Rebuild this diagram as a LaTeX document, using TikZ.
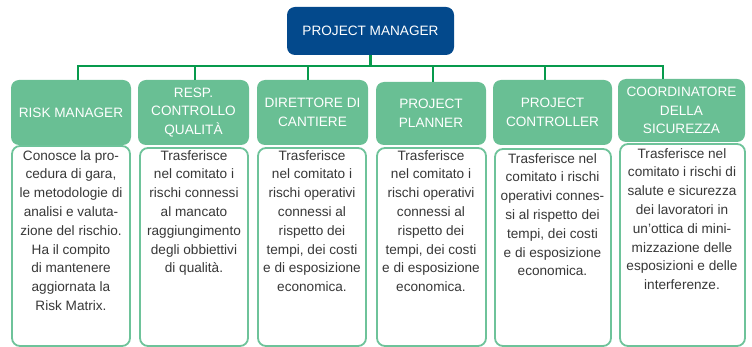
\documentclass[tikz,border=0pt]{standalone}
\usepackage{fontspec}
\setmainfont{Liberation Sans}
\definecolor{pmblue}{HTML}{03498C}
\definecolor{hdgreen}{HTML}{69BF94}
\definecolor{bdgreen}{HTML}{6EC39A}
\definecolor{lngreen}{HTML}{079A4C}
\definecolor{txtgray}{HTML}{383838}
\begin{document}
\begin{tikzpicture}[x=1pt,y=-1pt,
  pmbox/.style={fill=pmblue,draw=none,rounded corners=8pt,text=white,align=center,font=\fontsize{13.6}{18.8}\selectfont},
  hdbox/.style={fill=hdgreen,draw=none,rounded corners=8pt,text=white,align=center,inner sep=0pt,font=\fontsize{13.6}{18.8}\selectfont},
  dtbox/.style={fill=white,draw=bdgreen,line width=1.8pt,rounded corners=8pt},
  dttext/.style={anchor=north,align=center,text=txtgray,inner sep=0pt,font=\fontsize{13.6}{18.8}\selectfont},
  conn/.style={draw=lngreen,line width=2.4pt}]
\useasboundingbox (0,0) rectangle (752,347);
% project manager
\node[pmbox,minimum width=167pt,minimum height=48pt] (pm) at (370.5,31) {PROJECT MANAGER};
% headers
\node[hdbox,minimum width=120pt,minimum height=65pt] (h1) at (71,112.5) {RISK MANAGER};
\node[hdbox,minimum width=111pt,minimum height=65pt] (h2) at (193.5,112.5) {RESP.\\CONTROLLO\\QUALITÀ};
\node[hdbox,minimum width=111pt,minimum height=65pt] (h3) at (312.5,112.5) {DIRETTORE DI\\CANTIERE};
\node[hdbox,minimum width=110pt,minimum height=63pt] (h4) at (431,113.5) {PROJECT\\PLANNER};
\node[hdbox,minimum width=119pt,minimum height=65pt] (h5) at (552.5,112.5) {PROJECT\\CONTROLLER};
\node[hdbox,minimum width=127pt,minimum height=63pt] (h6) at (681.5,110.5) {COORDINATORE\\DELLA\\SICUREZZA};
% detail boxes
\draw[dtbox] (12,146) rectangle (130,346) node[pos=0,inner sep=0pt] (b1) {};
\draw[dtbox] (140,148) rectangle (248,346) node[pos=0,inner sep=0pt] (b2) {};
\draw[dtbox] (258,148) rectangle (366,346) node[pos=0,inner sep=0pt] (b3) {};
\draw[dtbox] (377,148) rectangle (486,346) node[pos=0,inner sep=0pt] (b4) {};
\draw[dtbox] (495,149) rectangle (611,346) node[pos=0,inner sep=0pt] (b5) {};
\draw[dtbox] (620,144) rectangle (745,346) node[pos=0,inner sep=0pt] (b6) {};
\node[dttext] (t1) at (71,150) {Conosce la pro-\\cedura di gara,\\le metodologie di\\analisi e valuta-\\zione del rischio.\\Ha il compito\\di mantenere\\aggiornata la\\Risk Matrix.};
\node[dttext] (t2) at (194,150) {Trasferisce\\nel comitato i\\rischi connessi\\al mancato\\raggiungimento\\degli obbiettivi\\di qualità.};
\node[dttext] (t3) at (312,150) {Trasferisce\\nel comitato i\\rischi operativi\\connessi al\\rispetto dei\\tempi, dei costi\\e di esposizione\\economica.};
\node[dttext] (t4) at (431,150) {Trasferisce\\nel comitato i\\rischi operativi\\connessi al\\rispetto dei\\tempi, dei costi\\e di esposizione\\economica.};
\node[dttext] (t5) at (552.5,153) {Trasferisce nel\\comitato i rischi\\operativi connes-\\si al rispetto dei\\tempi, dei costi\\e di esposizione\\economica.};
\node[dttext] (t6) at (682,148) {Trasferisce nel\\comitato i rischi di\\salute e sicurezza\\dei lavoratori in\\un’ottica di mini-\\mizzazione delle\\esposizioni e delle\\interferenze.};
% connectors
\coordinate (d1) at (78,66);
\coordinate (d2) at (195,66);
\coordinate (d3) at (308,66);
\coordinate (d4) at (433,66);
\coordinate (d5) at (545,66);
\coordinate (d6) at (663,66);
\draw[conn] (pm.south) -- (pm.south |- d1);
\draw[conn,line cap=rect] (d1) -- (d6);
\draw[conn] (d1) -- (d1 |- h1.north);
\draw[conn] (d2) -- (d2 |- h2.north);
\draw[conn] (d3) -- (d3 |- h3.north);
\draw[conn] (d4) -- (d4 |- h4.north);
\draw[conn] (d5) -- (d5 |- h5.north);
\draw[conn] (d6) -- (d6 |- h6.north);
\end{tikzpicture}
\end{document}
